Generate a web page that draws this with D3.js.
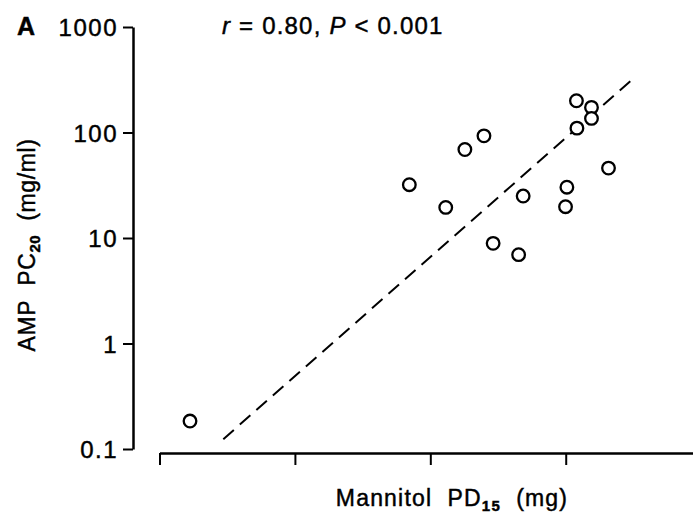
<!DOCTYPE html>
<html>
<head>
<meta charset="utf-8">
<script src="https://cdn.jsdelivr.net/npm/d3@7"></script>
<style>
  body { margin: 0; background: #fff; }
  svg text { font-family: "Liberation Sans", Arial, sans-serif; fill: #000; stroke: #000; stroke-width: 0.45px; }
</style>
</head>
<body>
<div id="container"></div>
<script>
/* CONSTANTS AND GLOBALS */
const width = 693,
  height = 516

/* DATA */
// mannitol PD15 (x) and AMP PC20 (y)
const mannitol = [0.168, 7.0, 13.0, 18.0, 24.9, 29.1, 44.9, 48.5, 99.7, 102, 120, 121, 155, 155, 207]
const amp = [0.184, 32, 19.5, 69, 93, 8.9, 6.95, 25, 19.8, 30.3, 200, 110, 173, 136, 46]
// regression line end points
const fitX = [0.296, 307]
const fitY = [0.124, 315]
const yTicks = [0.1, 1, 10, 100, 1000]
const yTickLabels = ["0.1", "1", "10", "100", "1000"]
const xTicks = [0.1, 1, 10, 100]

const svg = d3.select("#container")
  .append("svg")
  .attr("width", width)
  .attr("height", height)

/* SCALES */
const xScale = d3.scaleLog()
  .domain([0.1, Math.pow(10, 2.94)])
  .range([159.5, 693])

const yScale = d3.scaleLog()
  .domain([0.1, 1000])
  .range([449, 27])

/* AXES */
const yAxis = d3.axisLeft(yScale)
  .tickValues(yTicks)
  .tickFormat((d, i) => yTickLabels[i])
  .tickSize(10)
  .tickSizeOuter(0)
  .tickPadding(5)

const yG = svg.append("g")
  .attr("transform", "translate(133,0)")
  .call(yAxis)
yG.select(".domain").attr("stroke-width", 2.5)
yG.selectAll(".tick line").attr("stroke-width", 2)
yG.selectAll(".tick text")
  .attr("font-size", 24)
  .attr("dy", "0.36em")
  .style("letter-spacing", "1.5px")
  .attr("fill", "#000")

const xAxis = d3.axisBottom(xScale)
  .tickValues(xTicks)
  .tickFormat("")
  .tickSize(12)
  .tickSizeOuter(0)

const xG = svg.append("g")
  .attr("transform", "translate(0,453)")
  .call(xAxis)
xG.select(".domain").attr("stroke-width", 2.5)
xG.selectAll(".tick line").attr("stroke-width", 2)

/* REGRESSION LINE */
svg.append("line")
  .attr("x1", xScale(fitX[0]))
  .attr("y1", yScale(fitY[0]))
  .attr("x2", xScale(fitX[1]))
  .attr("y2", yScale(fitY[1]))
  .attr("stroke", "#000")
  .attr("stroke-width", 2)
  .attr("stroke-dasharray", "14,8")

/* POINTS */
svg.selectAll("circle.pt")
  .data(mannitol.map((m, i) => ({ x: m, y: amp[i] })))
  .join("circle")
  .attr("class", "pt")
  .attr("cx", d => xScale(d.x))
  .attr("cy", d => yScale(d.y))
  .attr("r", 6.3)
  .attr("fill", "#fff")
  .attr("stroke", "#000")
  .attr("stroke-width", 2.3)

/* TEXT */
svg.append("text")
  .attr("x", 17)
  .attr("y", 35)
  .attr("font-size", 25)
  .attr("font-weight", "bold")
  .text("A")

const stat = svg.append("text")
  .attr("x", 222)
  .attr("y", 34)
  .attr("font-size", 24)
  .style("letter-spacing", "1.2px")
stat.append("tspan").attr("font-style", "italic").text("r")
stat.append("tspan").text(" = 0.80, ")
stat.append("tspan").attr("font-style", "italic").text("P")
stat.append("tspan").text(" < 0.001")

const xt = svg.append("text")
  .attr("x", 452)
  .attr("y", 506)
  .attr("text-anchor", "middle")
  .attr("font-size", 23)
  .style("letter-spacing", "1.2px")
xt.append("tspan").text("Mannitol\u00a0 PD")
xt.append("tspan").attr("font-size", 15).attr("font-weight", "bold").attr("dy", 5).text("15")
xt.append("tspan").attr("dy", -5).text("\u00a0 (mg)")

const yt = svg.append("text")
  .attr("transform", "translate(35,245) rotate(-90)")
  .attr("text-anchor", "middle")
  .attr("font-size", 23)
  .style("letter-spacing", "0.6px")
yt.append("tspan").text("AMP\u00a0 PC")
yt.append("tspan").attr("font-size", 15).attr("font-weight", "bold").attr("dy", 5).text("20")
yt.append("tspan").attr("dy", -5).text("\u00a0 (mg/ml)")
</script>
</body>
</html>
